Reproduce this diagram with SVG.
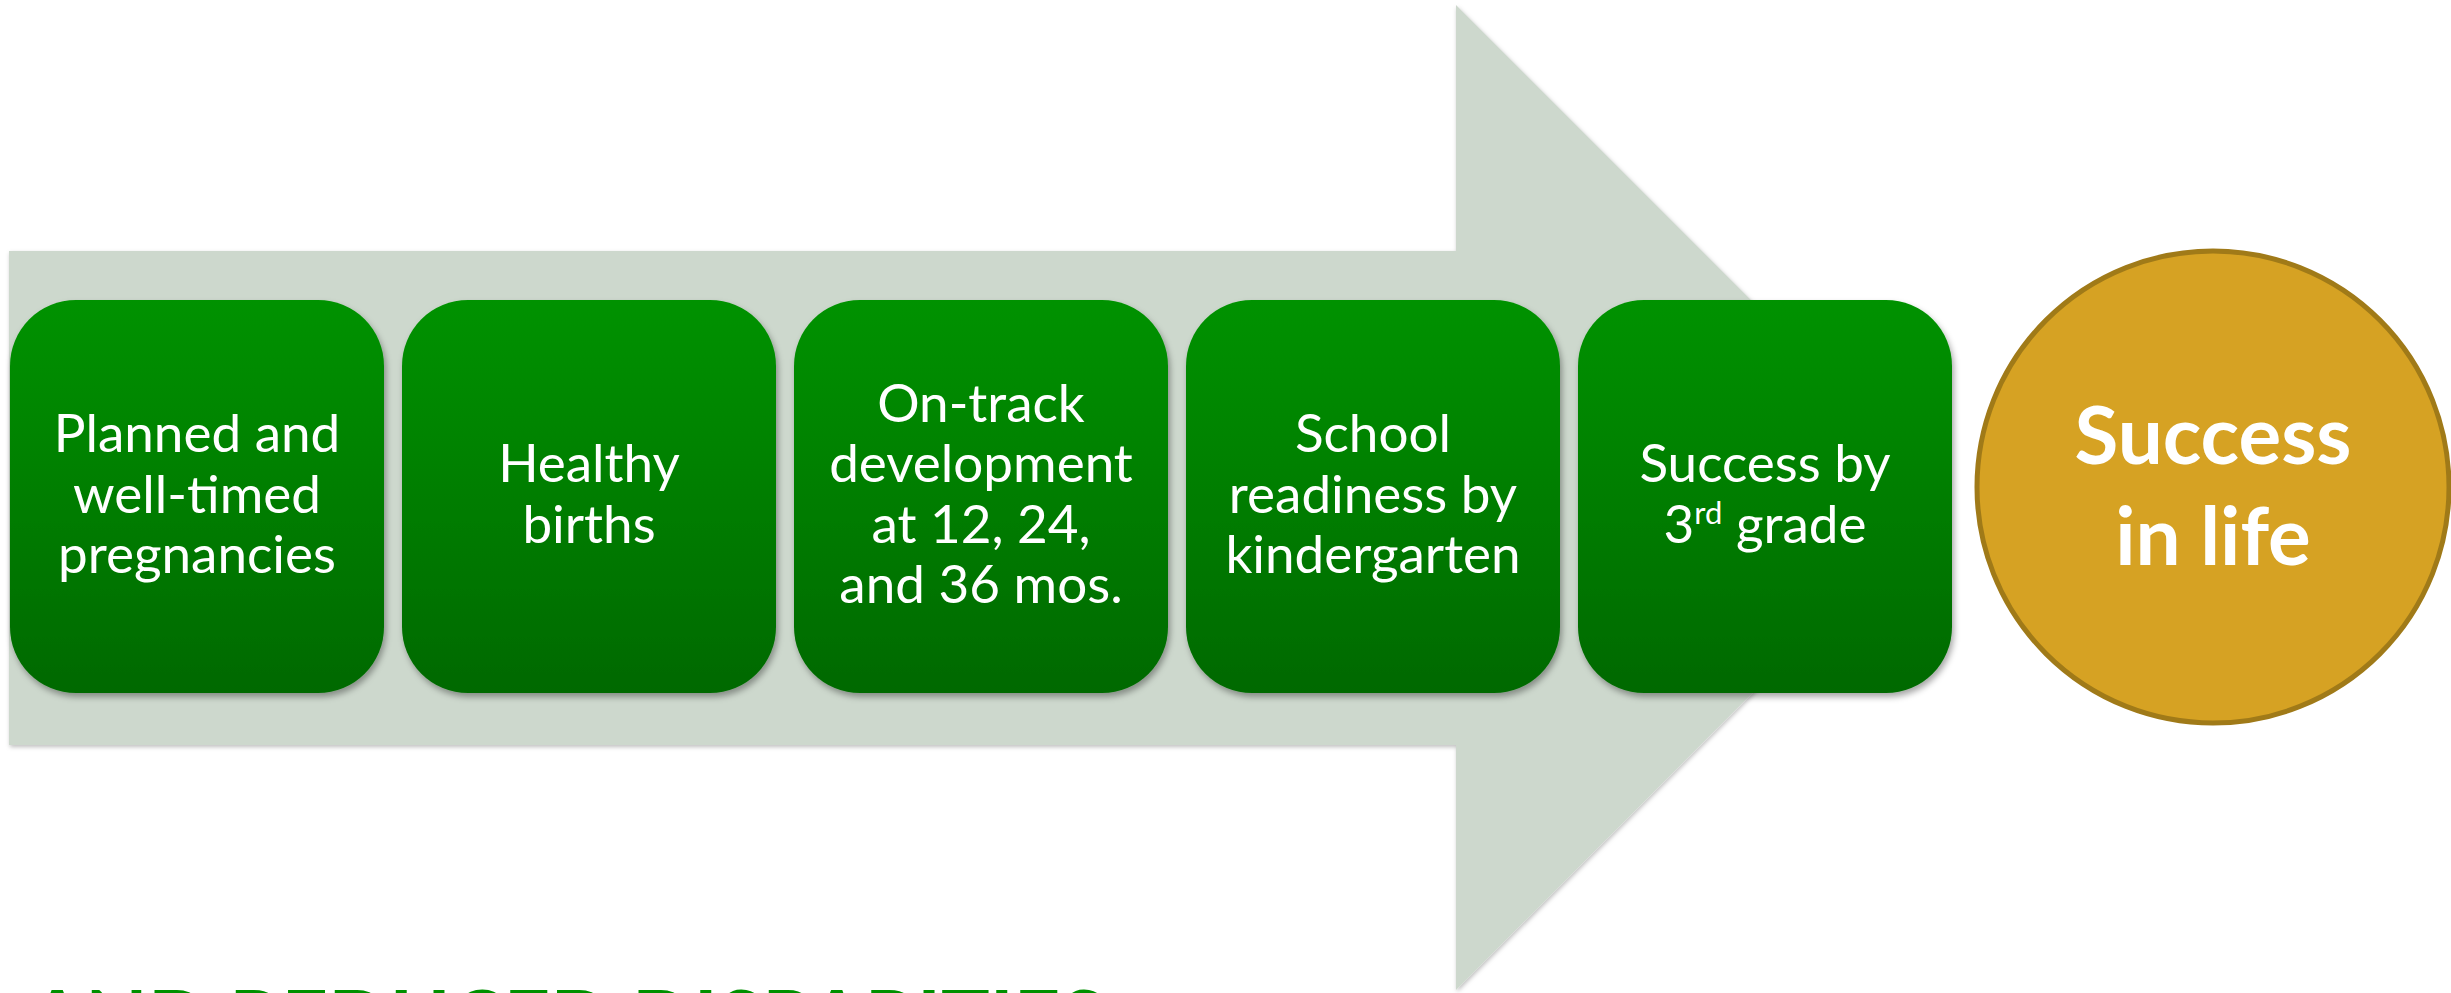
<svg xmlns="http://www.w3.org/2000/svg" width="2451" height="993" viewBox="0 0 2451 993">
  <style>
    .box { fill: url(#boxGrad); filter: url(#shadow); }
    .lbl { font-family: "Lato", "Open Sans", sans-serif; font-size: 53px; fill: #ffffff; text-anchor: middle; }
    .big { font-family: "Lato", "Open Sans", sans-serif; font-size: 80px; font-weight: bold; fill: #ffffff; text-anchor: middle; }
    .foot { font-family: "Lato", "Open Sans", sans-serif; font-size: 84px; font-weight: bold; fill: #009000; }
  </style>
  <defs>
    <linearGradient id="boxGrad" x1="0" y1="0" x2="0" y2="1">
      <stop offset="0" stop-color="#009200"/>
      <stop offset="1" stop-color="#006900"/>
    </linearGradient>
    <filter id="shadow" x="-10%" y="-10%" width="125%" height="125%">
      <feDropShadow dx="2" dy="4" stdDeviation="3" flood-color="#000000" flood-opacity="0.35"/>
    </filter>
    <filter id="ashadow" x="-5%" y="-5%" width="110%" height="110%">
      <feDropShadow dx="1" dy="2" stdDeviation="2" flood-color="#000000" flood-opacity="0.25"/>
    </filter>
  </defs>
  <rect width="2451" height="993" fill="#ffffff"/>
  <g id="arrow">
    <polygon points="9,251 1456,251 1456,5 1948,497 1456,990 1456,745 9,745" fill="#CDD8CD" filter="url(#ashadow)"/>
  </g>
  <g id="connectors"/>
  <g id="step1">
    <rect class="box" x="10" y="300" width="374" height="393" rx="66" ry="66"/>
    <text class="lbl"><tspan x="197" y="452">Planned and</tspan><tspan x="197" y="513">well-timed</tspan><tspan x="197" y="573">pregnancies</tspan></text>
  </g>
  <g id="step2">
    <rect class="box" x="402" y="300" width="374" height="393" rx="66" ry="66"/>
    <text class="lbl"><tspan x="589" y="482">Healthy</tspan><tspan x="589" y="543">births</tspan></text>
  </g>
  <g id="step3">
    <rect class="box" x="794" y="300" width="374" height="393" rx="66" ry="66"/>
    <text class="lbl"><tspan x="981" y="422">On-track</tspan><tspan x="981" y="482">development</tspan><tspan x="981" y="543">at 12, 24,</tspan><tspan x="981" y="603">and 36 mos.</tspan></text>
  </g>
  <g id="step4">
    <rect class="box" x="1186" y="300" width="374" height="393" rx="66" ry="66"/>
    <text class="lbl"><tspan x="1373" y="452">School</tspan><tspan x="1373" y="513">readiness by</tspan><tspan x="1373" y="573">kindergarten</tspan></text>
  </g>
  <g id="step5">
    <rect class="box" x="1578" y="300" width="374" height="393" rx="66" ry="66"/>
    <text class="lbl"><tspan x="1765" y="482">Success by</tspan></text>
    <text class="lbl" x="1765" y="543">3<tspan font-size="31" dy="-19">rd</tspan><tspan dy="19"> grade</tspan></text>
  </g>
  <g id="outcome">
    <circle cx="2213" cy="487" r="236" fill="#D6A223" stroke="#A07A18" stroke-width="5"/>
    <text class="big"><tspan x="2213" y="464">Success</tspan><tspan x="2213" y="565">in life</tspan></text>
  </g>
  <g id="footer">
    <text class="foot" x="29" y="1051" textLength="1076" lengthAdjust="spacingAndGlyphs">AND REDUCED DISPARITIES</text>
  </g>
</svg>
